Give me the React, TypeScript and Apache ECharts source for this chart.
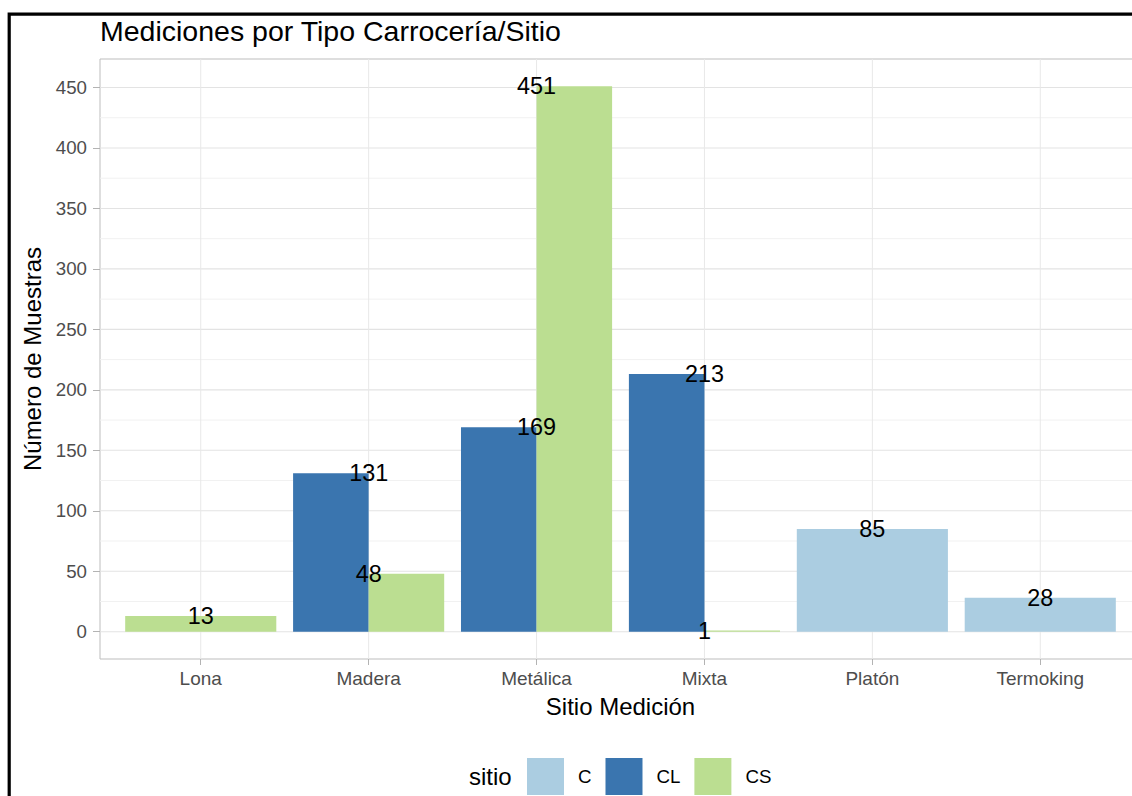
import React, { useEffect, useRef } from "react";
import * as echarts from "echarts";

const categories = ["Lona", "Madera", "Metálica", "Mixta", "Platón", "Termoking"];
const sitios = ["C", "CL", "CS"];
const valuesC: (number | null)[] = [null, null, null, null, 85, 28];
const valuesCL: (number | null)[] = [null, 131, 169, 213, null, null];
const valuesCS: (number | null)[] = [13, 48, 451, 1, null, null];
const yTicks = [0, 50, 100, 150, 200, 250, 300, 350, 400, 450];
const yMinor = [25, 75, 125, 175, 225, 275, 325, 375, 425];
const colors = ["#ABCDE1", "#3A75AF", "#BBDE91"];

const FONT = "'Liberation Sans', Arial, Helvetica, sans-serif";

export default function App() {
  const ref = useRef<HTMLDivElement>(null);

  useEffect(() => {
    if (!ref.current) return;
    const chart = echarts.init(ref.current, null, { renderer: "svg" });
    const seriesValues = [valuesC, valuesCL, valuesCS];
    const maxVal = Math.max(...(seriesValues.flat().filter((v) => v != null) as number[]));
    const yMin = -0.05 * maxVal;
    const yMax = maxVal * 1.05;

    const dodgeData = (s: number) =>
      categories
        .map((_, i) => {
          const present = seriesValues
            .map((arr, j) => (arr[i] != null ? j : -1))
            .filter((j) => j >= 0);
          const v = seriesValues[s][i];
          if (v == null) return null;
          return [i, v, present.length, present.indexOf(s)];
        })
        .filter((d) => d != null);

    const labelData: any[] = [];
    categories.forEach((_, i) => {
      seriesValues.forEach((arr) => {
        if (arr[i] != null) labelData.push([i, arr[i]]);
      });
    });

    const barSeries = sitios.map((name, s) => ({
      type: "custom",
      name,
      z: 3,
      itemStyle: { color: colors[s] },
      encode: { x: 0, y: 1 },
      data: dodgeData(s),
      renderItem: (params: any, api: any) => {
        const i = api.value(0);
        const v = api.value(1);
        const n = api.value(2);
        const k = api.value(3);
        const w = 0.9 / n;
        const x0 = i - 0.45 + k * w;
        const p0 = api.coord([x0, 0]);
        const p1 = api.coord([x0 + w, v]);
        return {
          type: "rect",
          shape: { x: p0[0], y: p1[1], width: p1[0] - p0[0], height: p0[1] - p1[1] },
          style: { fill: colors[s] },
        };
      },
    }));

    const option: any = {
      animation: false,
      backgroundColor: "#ffffff",
      textStyle: { fontFamily: FONT },
      title: {
        text: "Mediciones por Tipo Carrocería/Sitio",
        left: 100,
        top: 16,
        padding: 0,
        textStyle: { fontSize: 28.5, fontWeight: "normal", color: "#000", fontFamily: FONT },
      },
      graphic: [
        {
          type: "rect",
          z: -10,
          shape: { x: 9.2, y: 14.2, width: 1300, height: 1000 },
          style: { fill: "none", stroke: "#000", lineWidth: 3.2 },
        },
        {
          type: "text",
          x: 469,
          y: 776.5,
          style: {
            text: "sitio",
            fontSize: 24,
            fontFamily: FONT,
            fill: "#000",
            textVerticalAlign: "middle",
          },
        },
      ],
      legend: {
        data: sitios,
        left: 527,
        top: 758,
        orient: "horizontal",
        icon: "rect",
        itemWidth: 37,
        itemHeight: 37,
        itemGap: 14,
        padding: 0,
        textStyle: { fontSize: 18.7, color: "#000", fontFamily: FONT, padding: [0, 0, 0, 9] },
        selectedMode: false,
      },
      grid: {
        left: 100,
        top: 59,
        right: -9,
        bottom: 137,
        show: true,
        borderColor: "#BDBDBD",
        borderWidth: 1,
        backgroundColor: "#fff",
        containLabel: false,
        outerBoundsMode: "none",
      },
      xAxis: {
        type: "value",
        min: -0.6,
        max: categories.length - 0.4,
        name: "Sitio Medición",
        nameLocation: "middle",
        nameGap: 35,
        nameTextStyle: { fontSize: 24, color: "#000", fontFamily: FONT },
        axisLine: { show: false, onZero: false },
        splitLine: { show: false },
        axisTick: {
          show: true,
          length: 6,
          customValues: categories.map((_, i) => i),
          lineStyle: { color: "#B3B3B3" },
        },
        axisLabel: {
          customValues: categories.map((_, i) => i),
          formatter: (v: number) => categories[Math.round(v)] ?? "",
          fontSize: 19,
          color: "#4D4D4D",
          margin: 10,
          fontFamily: FONT,
        },
      },
      yAxis: {
        type: "value",
        min: yMin,
        max: yMax,
        name: "Número de Muestras",
        nameLocation: "middle",
        nameGap: 47,
        nameTextStyle: { fontSize: 24, color: "#000", fontFamily: FONT },
        axisLine: { show: false, onZero: false },
        splitLine: { show: false },
        axisTick: {
          show: true,
          length: 7,
          customValues: yTicks,
          lineStyle: { color: "#B3B3B3" },
        },
        axisLabel: {
          customValues: yTicks,
          fontSize: 18.7,
          color: "#4D4D4D",
          margin: 13,
          fontFamily: FONT,
        },
      },
      series: [
        {
          type: "custom",
          name: "yGrid",
          z: 1,
          silent: true,
          encode: { y: 0 },
          data: [...yMinor.map((v) => [v, 0]), ...yTicks.map((v) => [v, 1])],
          renderItem: (params: any, api: any) => {
            const v = api.value(0);
            const major = api.value(1) === 1;
            const cs = params.coordSys;
            const p = api.coord([0, v]);
            return {
              type: "line",
              shape: { x1: cs.x, y1: p[1], x2: cs.x + cs.width, y2: p[1] },
              style: { stroke: major ? "#E3E3E3" : "#F1F1F1", lineWidth: major ? 1.1 : 1 },
            };
          },
        },
        {
          type: "custom",
          name: "xGrid",
          z: 1,
          silent: true,
          encode: { x: 0 },
          data: categories.map((_, i) => [i]),
          renderItem: (params: any, api: any) => {
            const i = api.value(0);
            const cs = params.coordSys;
            const p = api.coord([i, 0]);
            return {
              type: "line",
              shape: { x1: p[0], y1: cs.y, x2: p[0], y2: cs.y + cs.height },
              style: { stroke: "#E8E8E8", lineWidth: 1 },
            };
          },
        },
        ...barSeries,
        {
          type: "custom",
          name: "labels",
          z: 5,
          silent: true,
          encode: { x: 0, y: 1 },
          data: labelData,
          renderItem: (params: any, api: any) => {
            const i = api.value(0);
            const v = api.value(1);
            const p = api.coord([i, v]);
            return {
              type: "text",
              x: p[0],
              y: p[1],
              style: {
                text: String(v),
                fontSize: 23.4,
                fontFamily: FONT,
                fill: "#000",
                textAlign: "center",
                textVerticalAlign: "middle",
              },
            };
          },
        },
      ],
    };

    chart.setOption(option);
    return () => chart.dispose();
  }, []);

  return (
    <div
      ref={ref}
      style={{ position: "fixed", left: 0, top: 0, width: 1132, height: 796, overflow: "hidden" }}
    />
  );
}
